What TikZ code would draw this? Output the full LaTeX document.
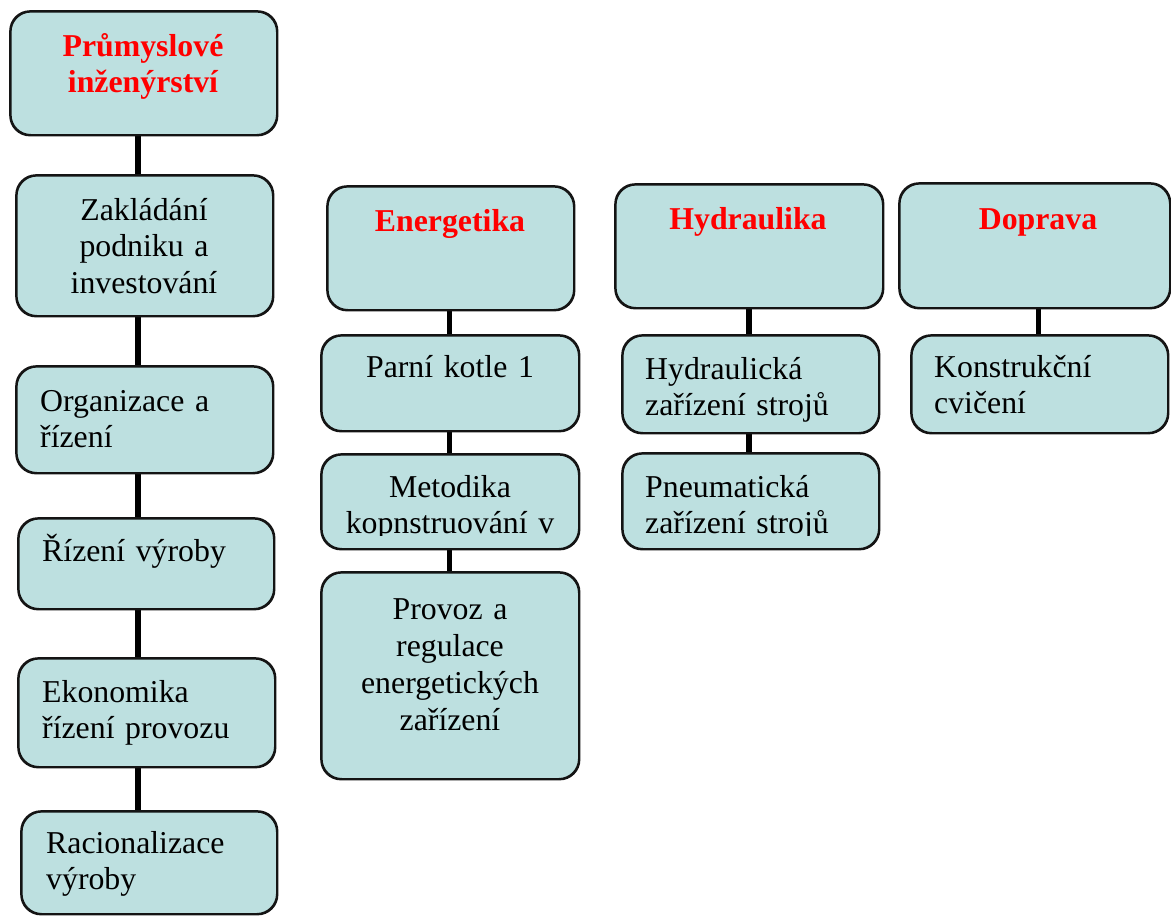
\documentclass[tikz,border=0pt]{standalone}
\usepackage{fontspec}
\setmainfont{Liberation Serif}[WordSpace=0.78]
\definecolor{boxfill}{RGB}{189,224,224}
\definecolor{hdred}{RGB}{255,0,0}
\definecolor{boxline}{RGB}{20,20,20}
\tikzset{
  box/.style={draw=boxline, line width=1.6pt, fill=boxfill, rounded corners=20pt, inner sep=0pt, anchor=north west},
  conn/.style={draw=black, line width=5.8pt},
  tx/.style={inner sep=0pt, font=\fontsize{31.8}{36.8}\selectfont, text width=255pt, align=center, anchor=base},
  txl/.style={tx, align=left, anchor=base west},
  hd/.style={tx, font=\bfseries\fontsize{31.8}{36.8}\selectfont, text=hdred}
}
\begin{document}
\begin{tikzpicture}[x=1pt, y=-1pt]
\useasboundingbox[fill=white] (0,0) rectangle (1171,916);
% connector columns
\coordinate (c1) at (138,0);
\coordinate (c2) at (449.5,0);
\coordinate (c3) at (749,0);
\coordinate (c4) at (1038.5,0);
% boxes (shapes only)
\path
  (10,11)   node[box, minimum width=266, minimum height=123] (p) {}
  (16,175)  node[box, minimum width=256, minimum height=140] (z) {}
  (16,366)  node[box, minimum width=256, minimum height=106] (o) {}
  (18,518)  node[box, minimum width=255, minimum height=90]  (r) {}
  (18,658)  node[box, minimum width=256, minimum height=108] (e) {}
  (21,811)  node[box, minimum width=255, minimum height=102] (ra) {}
  (327,186) node[box, minimum width=246, minimum height=123] (en) {}
  (321,335) node[box, minimum width=257, minimum height=95]  (pk) {}
  (321,454) node[box, minimum width=257, minimum height=94]  (m) {}
  (321,572) node[box, minimum width=257, minimum height=206] (pr) {}
  (615,184) node[box, minimum width=267, minimum height=123] (h) {}
  (622,335) node[box, minimum width=256, minimum height=97]  (hz) {}
  (622,453) node[box, minimum width=256, minimum height=95]  (pn) {}
  (899,183) node[box, minimum width=270, minimum height=124] (d) {}
  (911,335) node[box, minimum width=256, minimum height=97]  (k) {};
% connectors
\draw[conn] (p.south -| c1) -- (z.north -| c1);
\draw[conn] (z.south -| c1) -- (o.north -| c1);
\draw[conn] (o.south -| c1) -- (r.north -| c1);
\draw[conn] (r.south -| c1) -- (e.north -| c1);
\draw[conn] (e.south -| c1) -- (ra.north -| c1);
\draw[conn] (en.south -| c2) -- (pk.north -| c2);
\draw[conn] (pk.south -| c2) -- (m.north -| c2);
\draw[conn] (m.south -| c2) -- (pr.north -| c2);
\draw[conn] (h.south -| c3) -- (hz.north -| c3);
\draw[conn] (hz.south -| c3) -- (pn.north -| c3);
\draw[conn] (d.south -| c4) -- (k.north -| c4);
% redraw box borders over connector ends
\foreach \n in {p,z,o,r,e,ra,en,pk,m,pr,h,hz,pn,d,k}{
  \draw[draw=boxline, line width=1.6pt, rounded corners=20pt] (\n.north west) rectangle (\n.south east);
}
% texts
\node[hd] (tp) at (143,56) {Průmyslové\\inženýrství};
\node[tx] (tz) at (144,220) {Zakládání\\podniku a\\investování};
\node[txl] (to) at (40,411) {Organizace a\\řízení};
\node[txl] (tr) at (42,561) {Řízení výroby};
\node[txl] (te) at (42,702) {Ekonomika\\řízení provozu};
\node[txl] (tra) at (46,853) {Racionalizace\\výroby};
\node[hd] (ten) at (450,231) {Energetika};
\node[tx] (tpk) at (450,377) {Parní kotle 1};
\begin{scope}
\clip (321,454) rectangle (578,535.5);
\node[tx] (tm) at (450,497) {Metodika\\kopnstruování v};
\end{scope}
\node[tx, font=\fontsize{31.8}{37.3}\selectfont] (tpr) at (450,619) {Provoz a\\regulace\\energetických\\zařízení};
\node[hd] (th) at (748,229) {Hydraulika};
\node[txl] (thz) at (645,379) {Hydraulická\\zařízení strojů};
\begin{scope}
\clip (622,453) rectangle (878,535.5);
\node[txl] (tpn) at (645,497) {Pneumatická\\zařízení strojů};
\end{scope}
\node[hd] (td) at (1038,229) {Doprava};
\node[txl] (tk) at (934,377) {Konstrukční\\cvičení};
\end{tikzpicture}
\end{document}
